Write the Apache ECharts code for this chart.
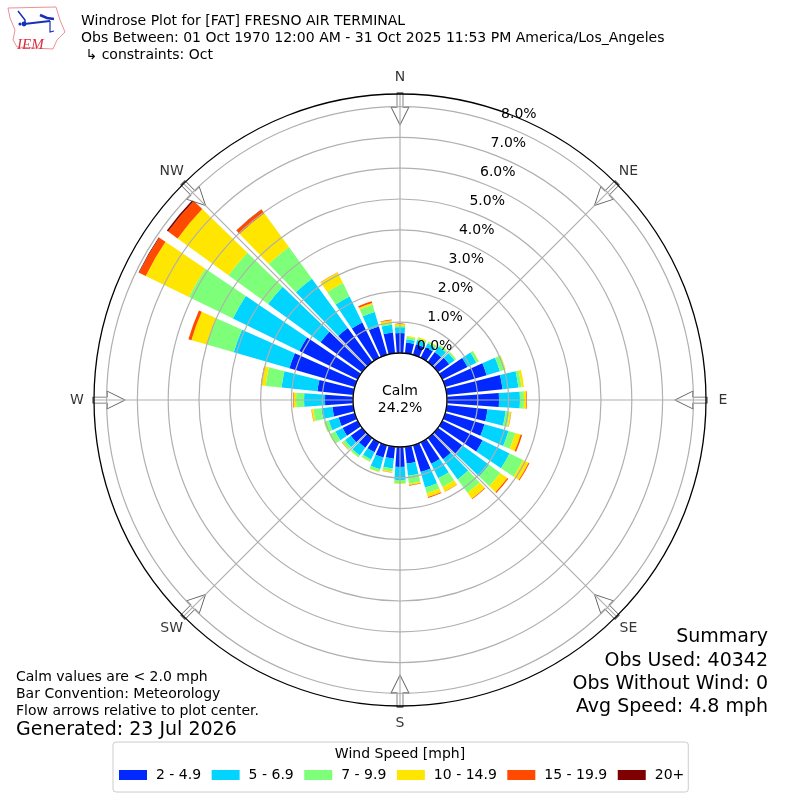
<!DOCTYPE html>
<html><head><meta charset="utf-8">
<style>html,body{margin:0;padding:0;background:#fff}#c{width:800px;height:800px}</style>
<script src="https://cdn.jsdelivr.net/npm/echarts@6/dist/echarts.min.js"></script>
</head><body><div id="c"></div>
<script>
// direction bins, degrees clockwise from north
const directions = [0,10,20,30,40,50,60,70,80,90,100,110,120,130,140,150,160,170,180,190,200,210,220,230,240,250,260,270,280,290,300,310,320,330,340,350];
const speedBins = ['2 - 4.9','5 - 6.9','7 - 9.9','10 - 14.9','15 - 19.9','20+'];
const binColors = ['#0028ff','#00d4ff','#7dff7a','#ffe600','#ff4a00','#7f0000'];
// percent of observations per direction
const bin2to5   = [.65,.35,.36,.38,.40,.45,.91,1.40,1.82,1.69,1.33,1.33,1.46,.97,.85,.78,.91,.55,.65,.39,.42,.36,.39,.45,.55,.55,.68,.91,1.17,2.21,2.11,1.66,1.36,1.27,.96,.68];
const bin5to7   = [.19,.11,.14,.14,.22,.21,.32,.45,.52,.68,.59,.81,.97,1.08,.81,.52,.52,.40,.42,.32,.39,.26,.31,.23,.26,.33,.36,.68,1.17,1.88,2.40,2.11,1.98,.94,.49,.25];
const bin7to10  = [.04,.07,.06,.06,.06,.06,.09,.18,.10,.13,.13,.23,.49,.45,.54,.32,.19,.25,.11,.10,.09,.08,.07,.10,.19,.16,.26,.26,.52,.91,1.59,1.59,1.27,.49,.24,.07];
const bin10to15 = [.06,.03,.04,.02,.01,.01,.01,.02,.08,.08,.05,.18,.20,.28,.24,.16,.13,.05,.02,.03,.02,.01,.01,.02,.02,.01,.06,.08,.14,.52,1.56,2.04,1.36,.38,.06,.08];
const bin15to20 = [.01,0,0,0,0,0,0,0,0,.02,.01,.05,.03,.04,.02,.01,.03,.02,0,.01,0,0,0,.01,0,0,.01,.02,.02,.10,.24,.38,.15,.01,.06,.02];
const bin20plus = [0,0,0,0,0,0,0,0,0,0,0,0,0,0,0,0,0,0,0,0,0,0,0,0,0,0,0,0,0,0,.02,.05,.01,0,0,0];
const binValues = [bin2to5,bin5to7,bin7to10,bin10to15,bin15to20,bin20plus];
const compassLabels = ['N','NE','E','SE','S','SW','W','NW'];
const arrowAngles = [0,45,90,135,180,225,270,315];
const radiusTicks = 8;
const titleLines = ['Windrose Plot for [FAT] FRESNO AIR TERMINAL','Obs Between: 01 Oct 1970 12:00 AM - 31 Oct 2025 11:53 PM America/Los_Angeles',' ↳ constraints: Oct'];
const noteLines = ['Calm values are < 2.0 mph','Bar Convention: Meteorology','Flow arrows relative to plot center.'];
const summaryLines = ['Summary','Obs Used: 40342','Obs Without Wind: 0','Avg Speed: 4.8 mph'];
const generatedText = 'Generated: 23 Jul 2026';
const calmText = 'Calm\n24.2%';
const legendTitle = 'Wind Speed [mph]';

const FONT = '"DejaVu Sans"';
const grey = '#b0b0b0';
function txt(text,x,y,size,align){
  return {type:'text',z:20,style:{text,x,y,fill:'#000',font:size+'px '+FONT,textAlign:align||'left',textVerticalAlign:'middle',textBaseline:'middle',lineHeight:size*1.17}};
}
const blue='#1a2fb8';
const graphics = [
  ...titleLines.map((t,i)=>txt(t,81,21+i*17,14.02)),
  ...noteLines.map((t,i)=>txt(t,16,677+i*17,14)),
  txt(generatedText,16,730.5,19),
  ...summaryLines.map((t,i)=>txt(t,768,637.5+i*23.2,19,'right')),
  txt(calmText,400,400,14,'center'),
  txt(legendTitle,400,754,14,'center'),
  {type:'polyline',z:20,shape:{points:[[8,8],[56,7],[60,20],[65,32],[57,40],[53,49],[17,47],[13,40],[15,30],[10,18],[8,8]]},style:{fill:'none',stroke:'#ee9098',lineWidth:1}},
  {type:'text',z:20,style:{text:'IEM',x:17,y:38,fill:'#d83040',font:'italic 15px "Liberation Serif"',textBaseline:'middle'}},
  {type:'polyline',z:20,shape:{points:[[24,24],[50,21]]},style:{stroke:blue,lineWidth:2,fill:'none'}},
  {type:'polyline',z:20,shape:{points:[[18,11],[25,20],[25,24]]},style:{stroke:blue,lineWidth:1.5,fill:'none'}},
  {type:'polyline',z:20,shape:{points:[[40,15],[47,18],[54,19]]},style:{stroke:blue,lineWidth:2.5,fill:'none'}},
  {type:'polyline',z:20,shape:{points:[[50,21],[50,32],[54,31]]},style:{stroke:blue,lineWidth:1.2,fill:'none'}},
  {type:'circle',z:20,shape:{cx:24,cy:24,r:2.4},style:{fill:blue}},
  {type:'circle',z:20,shape:{cx:20,cy:24,r:1.6},style:{fill:blue}}
];

const barSeries = speedBins.map((name,i)=>({
  type:'bar',name,coordinateSystem:'polar',polarIndex:0,stack:'wind',barWidth:'80%',z:2,silent:true,
  itemStyle:{color:binColors[i]},data:binValues[i]
}));
const hiddenAngle = {type:'value',min:0,max:360,show:false,axisLine:{show:false},axisLabel:{show:false},splitLine:{show:false},axisTick:{show:false}};

const option = {
  animation:false,
  backgroundColor:'#fff',
  textStyle:{fontFamily:FONT},
  graphic:graphics,
  polar:[
    {center:[400,400],radius:[47,293.4]},
    {center:[400,400],radius:[47,306]},
    {center:[400,400],radius:[62.6,309]},
    {center:[400,400],radius:[47,323]}
  ],
  angleAxis:[
    {polarIndex:0,type:'category',data:directions,startAngle:95,show:false,z:3},
    {polarIndex:1,type:'value',min:0,max:360,interval:45,startAngle:90,clockwise:true,z:3,
     axisLine:{show:true,lineStyle:{color:'#000',width:1.3}},axisTick:{show:false},
     splitLine:{show:true,lineStyle:{color:grey,width:1.2}},axisLabel:{show:false}},
    {polarIndex:2,startAngle:70,...hiddenAngle},
    {polarIndex:3,startAngle:90,...hiddenAngle}
  ],
  radiusAxis:[
    {polarIndex:0,type:'value',min:0,max:radiusTicks,interval:1,z:3,axisLine:{show:false},axisTick:{show:false},axisLabel:{show:false},
     splitLine:{show:true,lineStyle:{color:grey,width:1.2}}},
    {polarIndex:1,type:'value',min:0,max:1,show:false},
    {polarIndex:2,type:'value',min:0,max:radiusTicks,interval:1,z:5,axisLine:{show:false},axisTick:{show:false},splitLine:{show:false},
     axisLabel:{show:true,margin:-14,fontSize:14,color:'#000',fontFamily:FONT,align:'center',verticalAlign:'middle',rotate:0,formatter:v=>v.toFixed(1)+'%',showMinLabel:true,showMaxLabel:true}},
    {polarIndex:3,type:'value',min:0,max:1,show:false}
  ],
  legend:{
    left:113,top:742,orient:'horizontal',padding:[26,4,10,6],
    backgroundColor:'#fff',borderColor:'#ccc',borderWidth:1,borderRadius:3,
    itemWidth:28,itemHeight:10,itemGap:10.5,
    textStyle:{fontSize:14,color:'#000',fontFamily:FONT,padding:[0,0,0,4]},
    data:speedBins,selectedMode:false,icon:'rect'
  },
  series:[
    ...barSeries,
    {type:'scatter',coordinateSystem:'polar',polarIndex:1,silent:true,z:2,
     symbol:'path://M6 0 L12 0 L12 14 L18 14 L9 32 L0 14 L6 14 Z',symbolKeepAspect:false,symbolSize:[18,32],
     symbolRotate:(v)=>-v[1],
     itemStyle:{color:'#fff',borderColor:'#333',borderWidth:1},
     data:arrowAngles.map(a=>[0.942,a])},
    {type:'scatter',coordinateSystem:'polar',polarIndex:3,silent:true,z:5,symbol:'circle',symbolSize:1,
     itemStyle:{color:'rgba(255,255,255,0)'},
     label:{show:true,position:'inside',align:'center',verticalAlign:'middle',fontSize:14,color:'#000',fontFamily:FONT,formatter:p=>p.name},
     data:compassLabels.map((n,i)=>({name:n,value:[1,arrowAngles[i]]}))}
  ]
};
echarts.init(document.getElementById('c'),null,{renderer:'canvas'}).setOption(option);
</script></body></html>
